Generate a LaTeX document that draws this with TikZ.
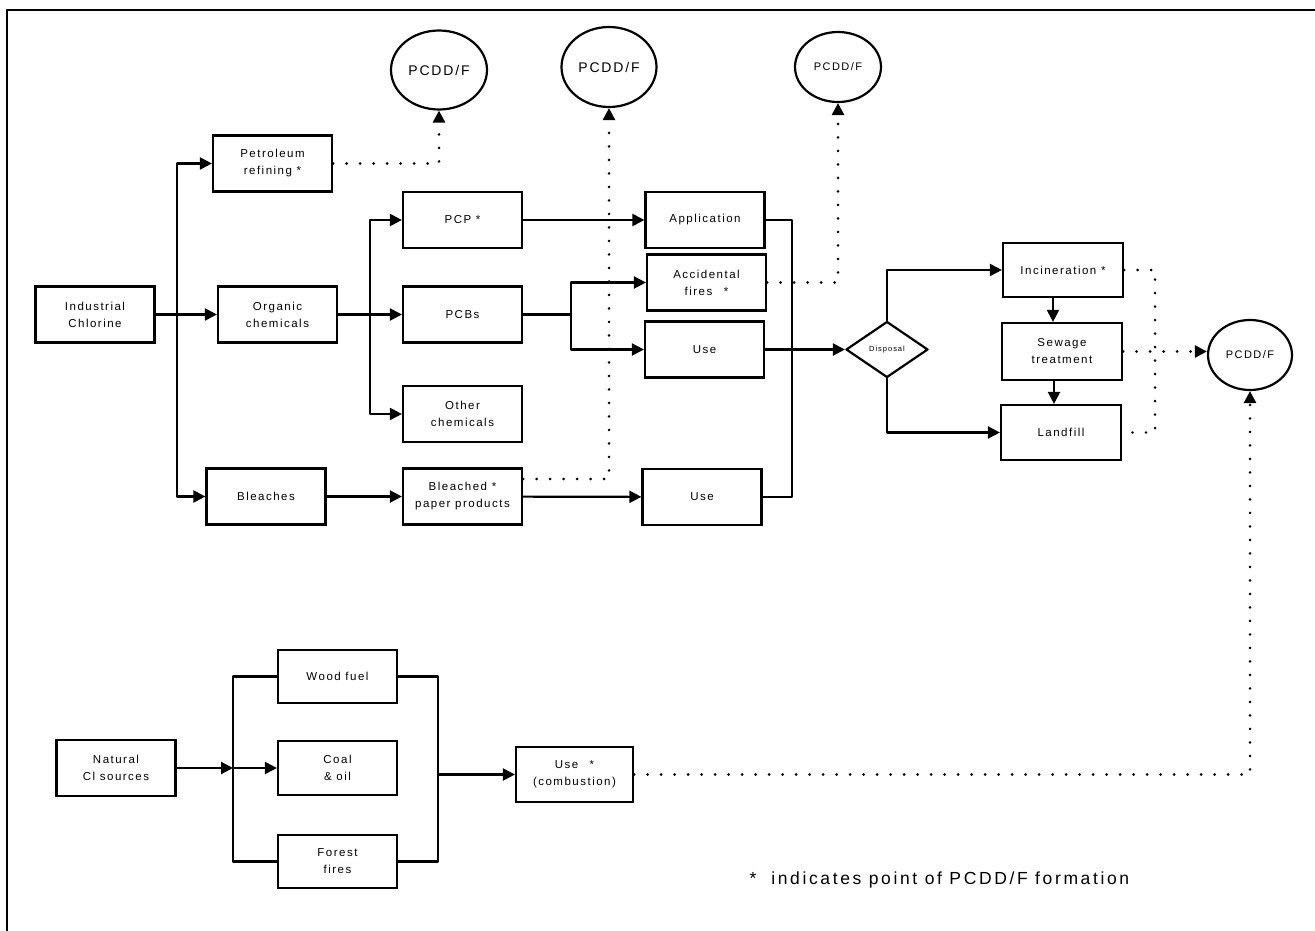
\documentclass[tikz,border=0pt]{standalone}
\usepackage{fontspec}
\setmainfont{Liberation Sans}[LetterSpace=13]
\newfontfamily\keyfont{Liberation Sans}[LetterSpace=15]
\usetikzlibrary{arrows.meta,shapes.geometric}
\begin{document}
\begin{tikzpicture}[x=1pt,y=-1pt,line join=round,line cap=round,>={Triangle[length=12pt,width=12pt]},
	block/.style={draw,line width=2.2pt,line join=miter,minimum width=119pt,minimum height=56pt,inner sep=1pt,align=center,font=\fontsize{11.5}{17}\selectfont},
	link/.style={line width=2.2pt},
	dotlink/.style={line width=2.8pt,line cap=round,dash pattern=on 0pt off 13.5pt},
	pcdd/.style={draw,ellipse,line width=2.2pt,inner sep=0pt,font=\fontsize{14}{14}\selectfont}]
	\useasboundingbox (0,0) rectangle (1315,931);
	\draw[line width=1.5pt] (7,931) -- (7,10) -- (1315,10);
	%% Industrial chlorine
	\node[block] (ind) at (95,314.5) {Industrial\\Chlorine};
	\node[block] (pet) at (272.5,163.5) {Petroleum\\refining *};
	\node[block] (org) at (277.5,314.5) {Organic\\chemicals};
	\node[block] (ble) at (266,496.5) {Bleaches};
	\node[block] (pcp) at (462.5,220) {PCP *};
	\node[block] (pcb) at (462.5,314.5) {PCBs};
	\node[block] (oth) at (462.5,414) {Other\\chemicals};
	\node[block] (bpp) at (462.5,496.5) {Bleached *\\paper products};
	\node[block] (app) at (705,220) {Application};
	\node[block] (acc) at (706.5,282.5) {Accidental\\fires\quad*};
	\node[block] (use1) at (704.5,349.5) {Use};
	\node[block] (use2) at (702,497) {Use};
	%% Disposal
	\node[draw,diamond,aspect=1.46,minimum width=82pt,minimum height=56pt,inner sep=0pt,line width=2.2pt,font=\fontsize{7.5}{7.5}\selectfont] (dsp) at (887,349.5) {Disposal};
	\node[block,minimum width=120pt,minimum height=54pt] (inc) at (1063,270) {Incineration *};
	\node[block,minimum width=120pt,minimum height=57pt] (sew) at (1062,351.5) {Sewage\\treatment};
	\node[block,minimum width=120pt,minimum height=55pt] (lnd) at (1061,432.5) {Landfill};
	%% PCDD/F
	\node[pcdd,minimum width=96pt,minimum height=79pt] (c1) at (439,70) {PCDD/F};
	\node[pcdd,minimum width=95pt,minimum height=80pt] (c2) at (609,67) {PCDD/F};
	\node[pcdd,minimum width=86pt,minimum height=70pt,font=\fontsize{11}{11}\selectfont] (c3) at (838,67) {PCDD/F};
	\node[pcdd,minimum width=84pt,minimum height=70pt,font=\fontsize{11}{11}\selectfont] (c4) at (1250,355) {PCDD/F};
	%% Natural Cl
	\node[block] (nat) at (116,768) {Natural\\Cl sources};
	\node[block,minimum height=53pt] (wood) at (337.5,676.5) {Wood fuel};
	\node[block,minimum height=54pt] (coal) at (337.5,768) {Coal\\\& oil};
	\node[block,minimum height=53pt] (fst) at (337.5,861.5) {Forest\\fires};
	\node[block,minimum width=117pt,minimum height=55pt] (comb) at (574.5,774.5) {Use\quad*\\(combustion)};
	\node[anchor=west,font=\keyfont\fontsize{17.5}{17.5}\selectfont] (key) at (746,880) {*\ \ indicates point of PCDD/F formation};
	%% Branch points
	\coordinate (b1) at (177,314.5);
	\coordinate (b2) at (370,314.5);
	\coordinate (b3) at (571,314.5);
	\coordinate (b4) at (792,220);
	\coordinate (b5) at (233,768);
	\coordinate (b6) at (438,774.5);
	\coordinate (d1) at (1155,270);
	%% Flows
	\draw[link,->] (ind) -- (org);
	\draw[link,->] (b1) |- (pet);
	\draw[link,->] (b1) |- (ble);
	\draw[link,->] (org) -- (pcb);
	\draw[link,->] (b2) |- (pcp);
	\draw[link,->] (b2) |- (oth);
	\draw[link,->] (pcp) -- (app);
	\draw[link] (pcb) -- (b3);
	\draw[link,->] (b3) |- (acc);
	\draw[link,->] (b3) |- (use1);
	\draw[link,->] (ble) -- (bpp);
	\draw[link,->] (bpp) -- (use2);
	\draw[link] (app.east) -- (b4) |- (use2.east);
	\draw[link,->] (use1) -- (dsp);
	\draw[link,->] (dsp.north) |- (inc.west);
	\draw[link,->] (dsp.south) |- (lnd.west);
	\draw[link,->] ([xshift=-10pt]inc.south) -- ([xshift=-10pt]inc.south |- sew.north);
	\draw[link,->] ([xshift=-8pt]sew.south) -- ([xshift=-8pt]sew.south |- lnd.north);
	\draw[link,->] (nat) -- (b5);
	\draw[link,->] (b5) -- (coal);
	\draw[link] (wood.west) -| (b5) |- (fst.west);
	\draw[link] (wood.east) -| (b6) |- (fst.east);
	\draw[link,->] (b6) -- (comb);
	%% Dotted lines to PCDD/F
	\draw[dotlink,->] (pet.east) -| (c1.south);
	\draw[dotlink,->] ([yshift=17.5pt]bpp.east) -| (c2.south);
	\draw[dotlink,->] (acc.east) -| (c3.south);
	\draw[dotlink] (inc.east) -- (d1) |- (lnd.east);
	\draw[dotlink,->] (sew.east) -- (sew.east -| c4.west);
	\draw[dotlink,->] (comb.east) -| (c4.south);
\end{tikzpicture}
\end{document}
